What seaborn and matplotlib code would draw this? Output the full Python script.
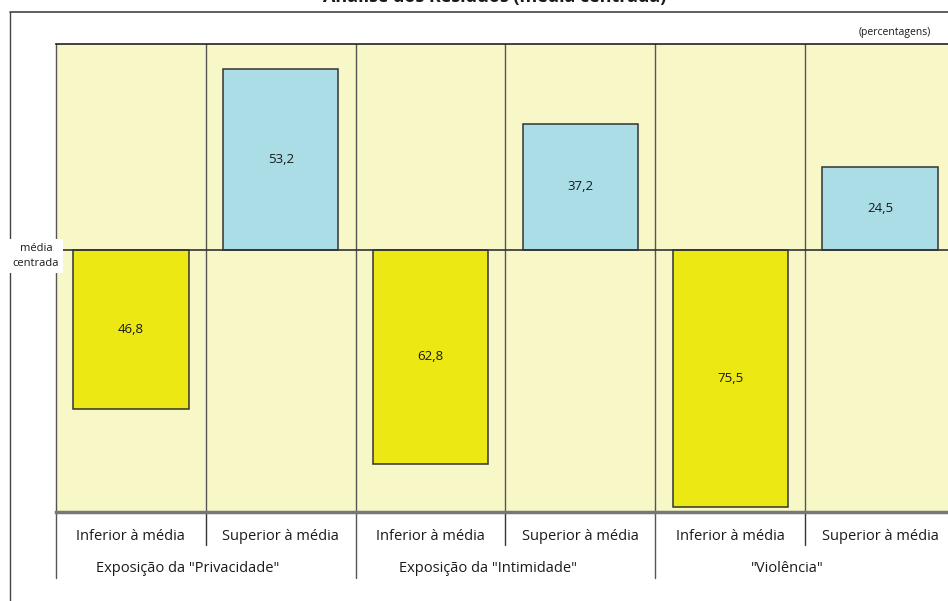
import pandas as pd
import matplotlib.pyplot as plt
import matplotlib.transforms as mtransforms
from matplotlib.lines import Line2D
import seaborn as sns

# dados (percentagens)
grupos = ['Exposição da "Privacidade"', 'Exposição da "Intimidade"', '"Violência"']
niveis = ["Inferior à média", "Superior à média"]
inferior = [46.8, 62.8, 75.5]
superior = [53.2, 37.2, 24.5]

titulo = "Análise dos Resíduos (média centrada)"

rows = []
for g, inf, sup in zip(grupos, inferior, superior):
    rows.append({"coluna": g + " | " + niveis[0], "nivel": niveis[0], "valor": -inf, "rotulo": inf})
    rows.append({"coluna": g + " | " + niveis[1], "nivel": niveis[1], "valor": sup, "rotulo": sup})
df = pd.DataFrame(rows)

sns.set_theme(style="white")
plt.rcParams["font.family"] = ["Open Sans", "DejaVu Sans"]

fig = plt.figure(figsize=(9.48, 6.01), dpi=100)
ax = fig.add_axes([56 / 948, 1 - 512 / 601, 899 / 948, 468 / 601])
ax.set_facecolor("#F8F7C8")

cores = {niveis[0]: "#EBE813", niveis[1]: "#AADDE6"}
sns.barplot(data=df, x="coluna", y="valor", hue="nivel", palette=cores,
            dodge=False, width=0.77, edgecolor="#333333", linewidth=1.1,
            saturation=1, legend=False, ax=ax, order=df["coluna"])

ax.set_xlim(-0.5, 5.5)
ax.set_ylim(-77.06, 60.6)
ax.set_yticks([])
ax.set_xlabel("")
ax.set_ylabel("")

# valores dentro das barras
for i, r in df.iterrows():
    ax.text(i, r["valor"] / 2, f"{r['rotulo']:.1f}".replace(".", ","),
            ha="center", va="center", fontsize=9.5, color="#1a1a1a")

# linha da média e separadores das colunas
ax.axhline(0, color="#333333", lw=1.2, zorder=1)
for xv in [0.5, 1.5, 2.5, 3.5, 4.5]:
    ax.axvline(xv, color="#555555", lw=1, zorder=0.5)

for s in ["top", "left", "bottom", "right"]:
    ax.spines[s].set_visible(True)
ax.spines["top"].set_color("#222222")
ax.spines["top"].set_linewidth(1.2)
ax.spines["left"].set_color("#555555")
ax.spines["left"].set_linewidth(1)
ax.spines["bottom"].set_color("#777777")
ax.spines["bottom"].set_linewidth(2.5)

# rótulos das categorias
ax.set_xticks(range(len(df)))
ax.set_xticklabels(df["nivel"], fontsize=10.5, color="#1a1a1a")
ax.tick_params(axis="x", length=0, pad=12)

trans = mtransforms.blended_transform_factory(ax.transData, ax.transAxes)
for xv in [0.5, 2.5, 4.5]:
    ax.plot([xv, xv], [0, -33 / 468], color="#333333", lw=1, transform=trans, clip_on=False)
for xv in [-0.5, 1.5, 3.5]:
    ax.plot([xv, xv], [0, -66 / 468], color="#555555", lw=1, transform=trans, clip_on=False)
for k, g in enumerate(grupos):
    ax.text(2 * k + 0.5 - 0.12, -56 / 468, g, transform=trans,
            ha="center", va="center", fontsize=10.5, color="#1a1a1a")

# moldura exterior
fig.add_artist(Line2D([10 / 948, 10 / 948], [0, 1 - 12 / 601], color="#444444", lw=1))
fig.add_artist(Line2D([10 / 948, 1], [1 - 12 / 601, 1 - 12 / 601], color="#444444", lw=1.2))

fig.text(895 / 948, 1 - 33 / 601, "(percentagens)", ha="center", va="center",
         fontsize=7.5, color="#1a1a1a")
fig.text(36 / 948, 1 - 256 / 601, "média\ncentrada", ha="center", va="center",
         fontsize=8, color="#1a1a1a", linespacing=1.5,
         bbox=dict(boxstyle="square,pad=0.35", fc="white", ec="none"))

# título (cortado no topo, como no original)
fig.text(495 / 948, 1 - 2 / 601, titulo, ha="center", va="baseline",
         fontsize=13, fontweight="bold", color="#1a1a1a")

fig.savefig("out.png", dpi=100)
